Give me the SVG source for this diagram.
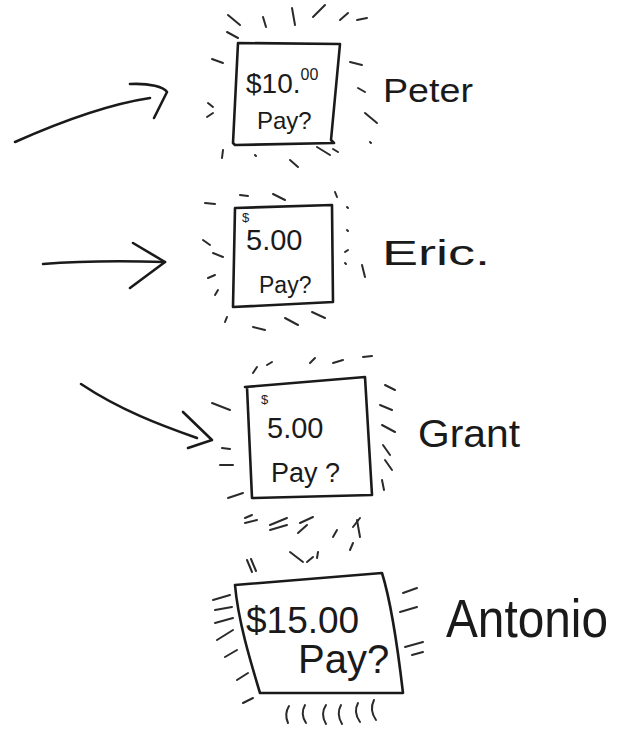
<svg xmlns="http://www.w3.org/2000/svg" width="629" height="731" viewBox="0 0 629 731">
<style>
  .box { fill: none; stroke: #1a1a1a; stroke-width: 2.6; stroke-linejoin: round; stroke-linecap: round; }
  .ray { fill: none; stroke: #2a2a2a; stroke-width: 2; stroke-linecap: round; }
  .arrow { fill: none; stroke: #1a1a1a; stroke-width: 2.6; stroke-linecap: round; stroke-linejoin: round; }
  .t { font-family: "Liberation Sans", "DejaVu Sans", sans-serif; fill: #1a1a1a; }
  .name { font-family: "Liberation Sans", "DejaVu Sans", sans-serif; fill: #1a1a1a; }
</style>
<rect width="629" height="731" fill="#ffffff"/>

<g id="connectors">
  <path class="arrow" d="M15,142 C60,122 110,104 150,98"/>
  <path class="arrow" d="M130,84 C150,83 164,87 167,92 L154,118"/>
  <path class="arrow" d="M43,264 C80,261 130,261 165,262"/>
  <path class="arrow" d="M133,243 L165,262 L130,288"/>
  <path class="arrow" d="M81,384 C120,410 160,425 197,438"/>
  <path class="arrow" d="M183,412 L212,440 L188,448"/>
</g>

<g id="node-peter">
  <path class="box" d="M238,43 L340,44 L331,140 L334,143 L235,145 L233,143 Z"/>
  <text class="t" x="246" y="93" font-size="28">$10.<tspan font-size="16" dy="-13">00</tspan></text>
  <text class="t" x="257" y="129" font-size="24">Pay?</text>
  <g class="ray">
    <path d="M228,15 L240,25"/><path d="M227,32 L238,38"/><path d="M263,17 L266,27"/>
    <path d="M292,8 L295,25"/><path d="M313,17 L325,5"/><path d="M340,20 L348,13"/>
    <path d="M357,20 L367,18"/><path d="M212,59 L223,63"/><path d="M208,103 L213,107"/>
    <path d="M207,117 L213,113"/><path d="M350,62 L362,65"/><path d="M358,88 L365,92"/>
    <path d="M365,113 L377,123"/><path d="M370,142 L371,143"/><path d="M223,150 L222,158"/>
    <path d="M255,155 L256,156"/><path d="M290,160 L298,167"/><path d="M317,147 L330,155"/>
    <path d="M333,149 L338,152"/>
  </g>
  <text class="name" x="383" y="102" font-size="34" textLength="90" lengthAdjust="spacingAndGlyphs">Peter</text>
</g>

<g id="node-eric">
  <path class="box" d="M235,208 L332,205 L333,302 L233,307 Z"/>
  <text class="t" x="242" y="222" font-size="13">$</text>
  <text class="t" x="246" y="250" font-size="29">5.00</text>
  <text class="t" x="259" y="293" font-size="23">Pay?</text>
  <g class="ray">
    <path d="M205,203 L215,204"/><path d="M240,195 L248,196"/><path d="M273,194 L285,200"/>
    <path d="M335,192 L337,197"/><path d="M347,207 L348,208"/><path d="M203,240 L210,245"/>
    <path d="M213,253 L223,257"/><path d="M208,278 L215,275"/><path d="M215,295 L218,290"/>
    <path d="M347,230 L348,231"/><path d="M345,252 L348,250"/><path d="M345,263 L346,264"/>
    <path d="M362,265 L365,277"/><path d="M227,317 L225,322"/><path d="M253,327 L265,330"/>
    <path d="M285,318 L298,325"/><path d="M312,312 L325,318"/>
  </g>
  <text class="name" x="382" y="265" font-size="35" textLength="108" lengthAdjust="spacingAndGlyphs">Eric.</text>
</g>

<g id="node-grant">
  <path class="box" d="M245,387 L365,377 L372,495 L252,498 L247,387 Z"/>
  <text class="t" x="261" y="404" font-size="13">$</text>
  <text class="t" x="267" y="438" font-size="29">5.00</text>
  <text class="t" x="271" y="482" font-size="27">Pay ?</text>
  <g class="ray">
    <path d="M253,373 L257,367"/><path d="M267,365 L272,362"/><path d="M310,363 L315,358"/>
    <path d="M333,363 L343,360"/><path d="M363,357 L372,356"/><path d="M212,403 L230,410"/>
    <path d="M222,448 L230,449"/><path d="M220,465 L233,465"/><path d="M228,498 L243,493"/>
    <path d="M245,518 L252,515"/><path d="M270,525 L287,518"/><path d="M300,523 L313,517"/>
    <path d="M353,527 L360,518"/><path d="M385,385 L395,390"/><path d="M380,405 L392,410"/>
    <path d="M382,425 L395,432"/><path d="M383,445 L390,455"/><path d="M385,460 L392,470"/>
    <path d="M382,480 L384,490"/>
  </g>
  <text class="name" x="418" y="447" font-size="38" textLength="102" lengthAdjust="spacingAndGlyphs">Grant</text>
</g>

<g id="node-antonio">
  <path class="box" d="M235,585 L382,573 C392,605 398,650 403,693 L260,693 C250,660 238,620 235,585 Z"/>
  <text class="t" x="246" y="633" font-size="37">$15.00</text>
  <text class="t" x="298" y="673" font-size="40">Pay?</text>
  <g class="ray">
    <path d="M245,523 L257,520"/><path d="M270,530 L287,525"/><path d="M298,533 L307,525"/>
    <path d="M333,537 L337,530"/><path d="M357,520 L360,537"/><path d="M350,550 L353,543"/>
    <path d="M290,552 L303,562"/><path d="M307,562 L313,557"/><path d="M317,558 L318,552"/>
    <path d="M247,560 L252,572"/><path d="M251,559 L256,571"/>
    <path d="M213,600 L230,595"/><path d="M215,610 L232,607"/><path d="M215,623 L233,618"/>
    <path d="M217,640 L233,630"/><path d="M225,657 L237,650"/><path d="M237,680 L248,673"/>
    <path d="M243,703 L253,698"/>
    <path d="M403,593 L417,588"/><path d="M400,612 L417,607"/><path d="M405,647 L423,642"/>
    <path d="M412,655 L423,652"/>
    <path d="M288,723 Q284,714 289,706"/><path d="M306,723 Q300,714 305,705"/>
    <path d="M326,724 Q320,714 326,705"/><path d="M342,724 Q336,714 341,705"/>
    <path d="M360,722 Q353,712 358,703"/><path d="M376,720 Q369,710 374,700"/>
  </g>
  <text class="name" x="446" y="637" font-size="54" textLength="162" lengthAdjust="spacingAndGlyphs">Antonio</text>
</g>
</svg>
